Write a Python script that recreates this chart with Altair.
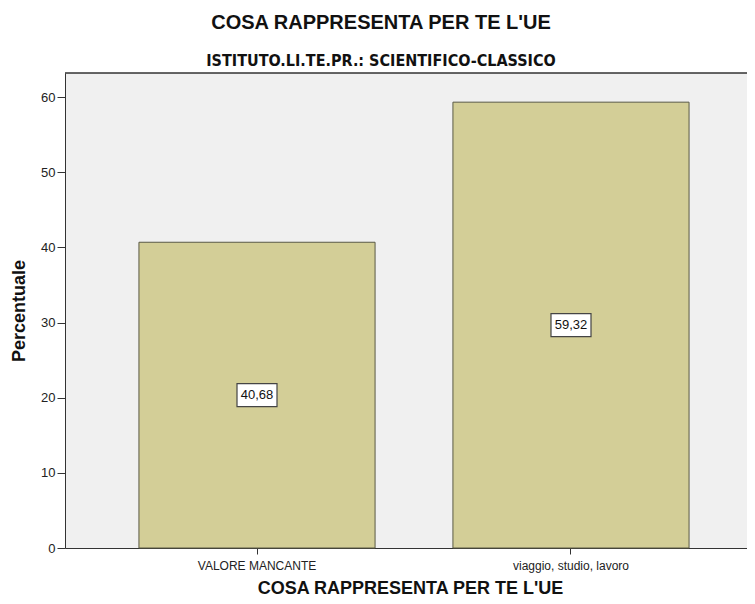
import altair as alt
import pandas as pd

categories = ["VALORE MANCANTE", "viaggio, studio, lavoro"]
values = [40.68, 59.32]
y_ticks = [0, 10, 20, 30, 40, 50, 60]

df = pd.DataFrame({"cat": categories, "value": values})

FONT = "Liberation Sans"
NARROW = "'DejaVu Sans Condensed', 'Liberation Sans'"
PLOT_W = 682
PLOT_H = 475

x_enc = alt.X(
    "cat:N",
    sort=categories,
    title="COSA RAPPRESENTA PER TE L'UE",
    scale=alt.Scale(range=[0, 698], paddingInner=0.248, paddingOuter=0.2355),
    axis=alt.Axis(
        labelAngle=0,
        labelFont=FONT,
        labelFontSize=12,
        labelColor="#222222",
        labelPadding=6,
        tickSize=6,
        tickColor="#333333",
        domainColor="#333333",
        titleFont=FONT,
        titleFontSize=18,
        titleFontWeight="bold",
        titleColor="#111111",
        titlePadding=8,
        titleX=345,
        grid=False,
    ),
)

y_scale = alt.Scale(domain=[0, 63.2], nice=False)

bars = alt.Chart(df).mark_bar(
    color="#D3CE97", stroke="#5A5A45", strokeWidth=1
).encode(
    x=x_enc,
    y=alt.Y(
        "value:Q",
        scale=y_scale,
        title="Percentuale",
        axis=alt.Axis(
            values=y_ticks,
            labelFont=FONT,
            labelFontSize=13,
            labelColor="#222222",
            labelPadding=2,
            tickSize=8,
            tickColor="#333333",
            domainColor="#333333",
            grid=False,
            titleFont=FONT,
            titleFontSize=18,
            titleFontWeight="bold",
            titleColor="#111111",
            titlePadding=12,
        ),
    ),
)

top_border = alt.Chart(df).mark_rule(color="#333333", strokeWidth=1).encode(
    x=alt.value(0), x2=alt.value(PLOT_W), y=alt.value(0)
)

base = alt.Chart(df).transform_calculate(
    mid="datum.value / 2",
    label="replace(format(datum.value, '.2f'), '.', ',')",
)

boxes = base.mark_point(
    shape="M-1.739,-1L1.739,-1L1.739,1L-1.739,1Z",
    size=529,
    filled=True,
    fill="white",
    stroke="#444444",
    strokeWidth=1.2,
    opacity=1,
).encode(
    x=alt.X("cat:N", sort=categories),
    y=alt.Y("mid:Q", scale=y_scale),
)

texts = base.mark_text(
    font=FONT, fontSize=13, color="#111111", baseline="middle", align="center"
).encode(
    x=alt.X("cat:N", sort=categories),
    y=alt.Y("mid:Q", scale=y_scale),
    text="label:N",
)

chart = (
    alt.layer(bars, top_border, boxes, texts)
    .properties(
        width=PLOT_W,
        height=PLOT_H,
        view=alt.ViewBackground(fill="#F0F0F0", stroke=None),
        autosize=alt.AutoSizeParams(type="none"),
        padding={"left": 57, "top": 65, "right": 0, "bottom": 48},
        title=alt.TitleParams(
            text="COSA RAPPRESENTA PER TE L'UE",
            subtitle="ISTITUTO.LI.TE.PR.: SCIENTIFICO-CLASSICO",
            font=FONT,
            fontSize=20,
            fontWeight="bold",
            color="#111111",
            subtitleFont=NARROW,
            subtitleFontSize=16,
            subtitleFontWeight="bold",
            subtitleColor="#111111",
            subtitlePadding=20,
            anchor="middle",
            dx=-25,
            offset=4,
        ),
    )
    .configure_view(fill="#F0F0F0")
    .configure(background="white")
)

chart.save("out.html", embed_options={"renderer": "svg", "actions": False})
